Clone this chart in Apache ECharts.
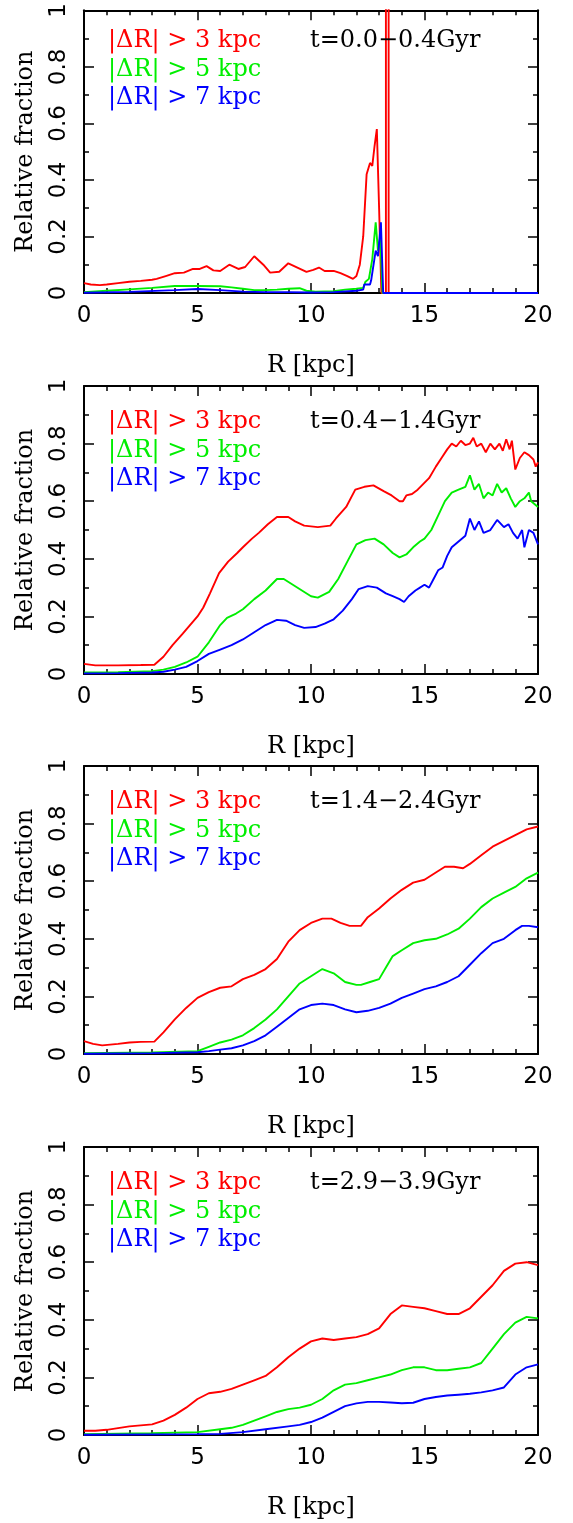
<!DOCTYPE html>
<html><head><meta charset="utf-8">
<script src="https://cdn.jsdelivr.net/npm/echarts@6/dist/echarts.min.js"></script>
<style>html,body{margin:0;padding:0;background:#fff}#c{width:573px;height:1523px}</style>
</head><body><div id="c"></div>
<script>
// ---- data ----
const xTickValues = [0, 5, 10, 15, 20];
const yTickValues = [0, 0.2, 0.4, 0.6, 0.8, 1];
const xAxisTitle = 'R [kpc]';
const yAxisTitle = 'Relative fraction';
const panelLabels = ['t=0.0\u22120.4Gyr', 't=0.4\u22121.4Gyr', 't=1.4\u22122.4Gyr', 't=2.9\u22123.9Gyr'];
const seriesNames = ['|\u0394R| > 3 kpc', '|\u0394R| > 5 kpc', '|\u0394R| > 7 kpc'];
const seriesColors = ['#ff0000', '#00ee00', '#0000ff'];

// Panel 1 (t=0.0-0.4 Gyr): [R, fraction]
const p1Red = [[0,0.035],[0.3,0.03],[0.7,0.028],[1,0.03],[1.5,0.035],[2,0.04],[2.5,0.043],[3,0.047],[3.2,0.05],[3.6,0.06],[4,0.07],[4.4,0.072],[4.8,0.085],[5.1,0.085],[5.4,0.095],[5.7,0.08],[6.0,0.078],[6.4,0.1],[6.8,0.085],[7.1,0.092],[7.5,0.13],[7.9,0.1],[8.2,0.072],[8.6,0.075],[9.0,0.105],[9.4,0.09],[9.8,0.075],[10.1,0.082],[10.35,0.09],[10.6,0.078],[11.0,0.078],[11.3,0.07],[11.6,0.06],[11.85,0.05],[12.0,0.06],[12.15,0.1],[12.3,0.2],[12.45,0.42],[12.6,0.46],[12.7,0.45],[12.8,0.52],[12.9,0.58],[13.0,0.3],[13.1,0],[13.3,0],[13.3,2],[13.42,2],[13.42,0],[20,0]];
const p1Green = [[0,0.003],[1,0.008],[2,0.013],[3,0.018],[4,0.025],[5,0.025],[6,0.024],[6.5,0.02],[7,0.015],[7.5,0.01],[8,0.01],[8.5,0.012],[9,0.015],[9.5,0.017],[9.8,0.008],[10.2,0.005],[11,0.006],[11.5,0.012],[12,0.015],[12.3,0.018],[12.4,0.04],[12.55,0.05],[12.7,0.12],[12.85,0.25],[12.95,0.15],[13.05,0.2],[13.15,0],[20,0]];
const p1Blue = [[0,0.001],[2,0.004],[4,0.01],[5,0.014],[6,0.01],[7,0.005],[8,0.003],[9,0.003],[10,0.002],[11,0.003],[12,0.008],[12.3,0.012],[12.35,0.03],[12.6,0.03],[12.65,0.045],[12.85,0.15],[12.95,0.13],[13.08,0.25],[13.18,0],[20,0]];

// Panel 2 (t=0.4-1.4 Gyr)
const p2Red = [[0,0.035],[0.5,0.03],[1.5,0.03],[2.5,0.031],[3.1,0.032],[3.5,0.06],[3.9,0.1],[4.35,0.14],[5.0,0.2],[5.25,0.23],[5.55,0.28],[5.95,0.35],[6.35,0.39],[6.75,0.42],[7.0,0.44],[7.4,0.47],[7.7,0.49],[8.1,0.52],[8.5,0.545],[9.0,0.545],[9.3,0.53],[9.7,0.515],[10.3,0.51],[10.85,0.515],[11.1,0.54],[11.55,0.58],[11.95,0.64],[12.35,0.65],[12.75,0.655],[13.2,0.635],[13.55,0.62],[13.9,0.6],[14.05,0.6],[14.2,0.62],[14.45,0.625],[14.7,0.64],[14.95,0.66],[15.2,0.68],[15.5,0.72],[15.75,0.75],[16.0,0.78],[16.2,0.8],[16.4,0.79],[16.6,0.81],[16.8,0.795],[17.0,0.8],[17.15,0.82],[17.3,0.79],[17.5,0.8],[17.7,0.77],[17.9,0.8],[18.1,0.78],[18.3,0.8],[18.45,0.775],[18.6,0.815],[18.75,0.78],[18.85,0.81],[19.0,0.71],[19.2,0.75],[19.4,0.77],[19.6,0.76],[19.8,0.745],[19.9,0.72],[20,0.735]];
const p2Green = [[0,0.005],[1.5,0.006],[3,0.01],[3.5,0.015],[4,0.025],[4.5,0.04],[5,0.06],[5.5,0.11],[6,0.17],[6.3,0.195],[6.7,0.21],[7,0.225],[7.5,0.26],[8,0.29],[8.5,0.33],[8.8,0.33],[9.2,0.31],[9.6,0.29],[10,0.27],[10.3,0.265],[10.8,0.285],[11.2,0.33],[11.6,0.39],[12,0.45],[12.4,0.465],[12.8,0.47],[13.2,0.45],[13.6,0.42],[13.9,0.405],[14.2,0.415],[14.5,0.44],[14.8,0.46],[15.0,0.47],[15.3,0.5],[15.6,0.55],[15.9,0.6],[16.2,0.63],[16.5,0.64],[16.8,0.65],[17.0,0.69],[17.2,0.64],[17.4,0.66],[17.6,0.61],[17.8,0.63],[18.0,0.62],[18.2,0.66],[18.4,0.63],[18.6,0.645],[18.8,0.61],[19.0,0.58],[19.2,0.6],[19.4,0.61],[19.6,0.63],[19.7,0.6],[20,0.58]];
const p2Blue = [[0,0.002],[1.5,0.003],[3,0.005],[3.5,0.008],[4,0.015],[4.5,0.025],[5,0.045],[5.5,0.07],[6,0.085],[6.5,0.1],[7,0.12],[7.5,0.145],[8,0.17],[8.5,0.188],[8.9,0.185],[9.3,0.17],[9.7,0.16],[10.2,0.163],[10.6,0.175],[11,0.19],[11.4,0.22],[11.8,0.26],[12.1,0.295],[12.5,0.305],[12.9,0.3],[13.3,0.28],[13.6,0.27],[13.9,0.26],[14.1,0.25],[14.3,0.27],[14.6,0.29],[14.8,0.3],[15,0.31],[15.2,0.3],[15.4,0.33],[15.6,0.36],[15.8,0.37],[16.0,0.41],[16.2,0.44],[16.5,0.46],[16.8,0.48],[17.0,0.54],[17.2,0.5],[17.4,0.53],[17.6,0.49],[17.9,0.5],[18.2,0.535],[18.5,0.51],[18.7,0.52],[18.9,0.49],[19.1,0.47],[19.3,0.5],[19.4,0.44],[19.6,0.5],[19.8,0.49],[20,0.45]];

// Panel 3 (t=1.4-2.4 Gyr)
const p3Red = [[0,0.045],[0.4,0.035],[0.8,0.03],[1.5,0.035],[2,0.04],[2.5,0.042],[3.1,0.043],[3.5,0.075],[4,0.12],[4.5,0.16],[5,0.195],[5.5,0.215],[6,0.23],[6.5,0.235],[7,0.26],[7.5,0.275],[8,0.295],[8.5,0.33],[9,0.39],[9.5,0.43],[10,0.455],[10.5,0.47],[10.9,0.47],[11.3,0.455],[11.7,0.445],[12.2,0.445],[12.5,0.475],[13,0.505],[13.5,0.54],[14,0.57],[14.5,0.595],[15,0.605],[15.5,0.63],[15.9,0.65],[16.3,0.65],[16.7,0.645],[17,0.66],[17.5,0.69],[18,0.72],[18.5,0.74],[19,0.76],[19.5,0.78],[20,0.79]];
const p3Green = [[0,0.003],[3,0.005],[5,0.01],[5.5,0.025],[6,0.04],[6.5,0.05],[7,0.065],[7.5,0.09],[8,0.12],[8.5,0.155],[9,0.2],[9.5,0.245],[10,0.27],[10.5,0.295],[11,0.28],[11.5,0.25],[12,0.24],[12.2,0.24],[12.6,0.25],[13,0.26],[13.3,0.3],[13.6,0.34],[14,0.36],[14.5,0.385],[15,0.395],[15.5,0.4],[16,0.415],[16.5,0.435],[17,0.47],[17.5,0.51],[18,0.54],[18.5,0.56],[19,0.58],[19.5,0.61],[20,0.63]];
const p3Blue = [[0,0.001],[3,0.003],[5,0.006],[5.5,0.01],[6,0.015],[6.5,0.02],[7,0.03],[7.5,0.045],[8,0.065],[8.5,0.095],[9,0.125],[9.5,0.155],[10,0.17],[10.5,0.175],[11,0.17],[11.5,0.155],[12,0.145],[12.5,0.15],[13,0.16],[13.5,0.175],[14,0.195],[14.5,0.21],[15,0.225],[15.5,0.235],[16,0.25],[16.5,0.27],[17,0.31],[17.5,0.35],[18,0.385],[18.5,0.4],[19,0.43],[19.3,0.445],[19.6,0.445],[20,0.44]];

// Panel 4 (t=2.9-3.9 Gyr)
const p4Red = [[0,0.015],[0.5,0.015],[1,0.018],[2,0.03],[3,0.037],[3.5,0.05],[4,0.07],[4.5,0.095],[5,0.125],[5.5,0.145],[6,0.15],[6.5,0.16],[7,0.175],[7.5,0.19],[8,0.205],[8.5,0.235],[9,0.27],[9.5,0.3],[10,0.325],[10.5,0.335],[11,0.33],[11.5,0.335],[12,0.34],[12.5,0.35],[13,0.37],[13.5,0.42],[14,0.45],[14.5,0.445],[15,0.44],[15.5,0.43],[16,0.42],[16.5,0.42],[17,0.44],[17.5,0.48],[18,0.52],[18.5,0.57],[19,0.595],[19.5,0.6],[20,0.59]];
const p4Green = [[0,0.003],[3,0.006],[5,0.01],[6,0.02],[6.5,0.025],[7,0.035],[7.5,0.05],[8,0.065],[8.5,0.08],[9,0.09],[9.5,0.095],[10,0.105],[10.5,0.125],[11,0.155],[11.5,0.175],[12,0.18],[12.5,0.19],[13,0.2],[13.5,0.21],[14,0.225],[14.5,0.235],[15,0.235],[15.5,0.225],[16,0.225],[16.5,0.23],[17,0.235],[17.5,0.25],[18,0.3],[18.5,0.35],[19,0.39],[19.5,0.41],[20,0.405]];
const p4Blue = [[0,0.001],[3,0.002],[5,0.003],[6,0.004],[7,0.01],[8,0.02],[9,0.03],[9.5,0.035],[10,0.045],[10.5,0.06],[11,0.08],[11.5,0.1],[12,0.11],[12.5,0.115],[13,0.115],[13.5,0.113],[14,0.11],[14.5,0.112],[15,0.125],[15.5,0.132],[16,0.137],[16.5,0.14],[17,0.143],[17.5,0.148],[18,0.155],[18.5,0.165],[19,0.21],[19.5,0.235],[20,0.245]];

const panels = [[p1Red,p1Green,p1Blue],[p2Red,p2Green,p2Blue],[p3Red,p3Green,p3Blue],[p4Red,p4Green,p4Blue]];

// ---- layout / style ----
const SERIF = '"DejaVu Serif", serif';
const SANS = '"DejaVu Sans", sans-serif';
const L = 84, W = 454, H = 288;
const tops = [5, 386, 766, 1147];

const grid = [], xAxis = [], yAxis = [], series = [], graphic = [];
const frame = {color:'#000', width:2};
const tickStyle = {color:'#000', width:1.5};

tops.forEach((top, i) => {
  grid.push({left:L, top:top, width:W, height:H, containLabel:false});
  const xBase = {gridIndex:i, type:'value', min:xTickValues[0], max:xTickValues[xTickValues.length-1], interval:xTickValues[1]-xTickValues[0],
    axisLine:{show:true, onZero:false, lineStyle:frame},
    axisTick:{show:true, inside:true, length:10, lineStyle:tickStyle},
    minorTick:{show:true, splitNumber:5, length:5, lineStyle:tickStyle},
    splitLine:{show:false}};
  xAxis.push(Object.assign({}, xBase, {position:'bottom',
    axisLabel:{show:true, color:'#000', fontSize:23, fontFamily:SANS, margin:12},
    name:xAxisTitle, nameLocation:'middle', nameGap:61,
    nameTextStyle:{color:'#000', fontSize:24, fontFamily:SERIF}}));
  xAxis.push(Object.assign({}, xBase, {position:'top', axisLabel:{show:false}}));
  const yBase = {gridIndex:i, type:'value', min:yTickValues[0], max:yTickValues[yTickValues.length-1], interval:yTickValues[1]-yTickValues[0],
    axisLine:{show:true, onZero:false, lineStyle:frame},
    axisTick:{show:true, inside:true, length:10, lineStyle:tickStyle},
    minorTick:{show:true, splitNumber:2, length:5, lineStyle:tickStyle},
    splitLine:{show:false}};
  yAxis.push(Object.assign({}, yBase, {position:'left',
    axisLabel:{show:true, rotate:90, color:'#000', fontSize:23, fontFamily:SANS, margin:13},
    name:yAxisTitle, nameLocation:'middle', nameGap:46,
    nameTextStyle:{color:'#000', fontSize:24, fontFamily:SERIF}}));
  yAxis.push(Object.assign({}, yBase, {position:'right', axisLabel:{show:false}}));

  panels[i].forEach((data, k) => {
    series.push({type:'line', name:seriesNames[k], xAxisIndex:2*i, yAxisIndex:2*i, data:data,
      showSymbol:false, symbol:'none', clip:true, silent:true,
      lineStyle:{color:seriesColors[k], width:1.9}, z:3+k});
  });

  seriesNames.forEach((nm, k) => {
    graphic.push({type:'text', left:108, top:top + 24 + 28.5*k, z:10,
      style:{text:nm, fill:seriesColors[k], font:'24px ' + SERIF}});
  });
  graphic.push({type:'text', left:310, top:top + 24, z:10,
    style:{text:panelLabels[i], fill:'#000', font:'24px ' + SERIF}});
});

const chart = echarts.init(document.getElementById('c'), null, {renderer:'canvas'});
chart.setOption({animation:false, backgroundColor:'#fff', grid, xAxis, yAxis, series, graphic});
</script></body></html>
